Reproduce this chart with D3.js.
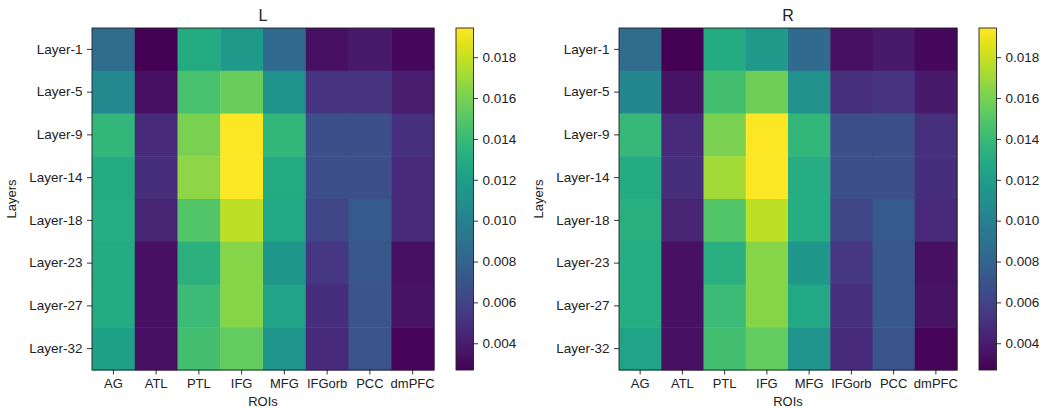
<!DOCTYPE html>
<html>
<head>
<meta charset="utf-8">
<script src="https://cdn.jsdelivr.net/npm/d3@7"></script>
<style>
  body { margin: 0; background: #fff; }
  svg { font-family: "Liberation Sans", Arial, sans-serif; }
  .axis .domain { display: none; }
  .axis line { stroke: #000; stroke-width: 0.8; }
  .axis text { fill: #222; }
</style>
</head>
<body>
<svg width="1049" height="408"></svg>
<script>
var rois = ["AG", "ATL", "PTL", "IFG", "MFG", "IFGorb", "PCC", "dmPFC"];
var layers = ["Layer-1", "Layer-5", "Layer-9", "Layer-14", "Layer-18", "Layer-23", "Layer-27", "Layer-32"];
var cbarTicks = [0.004, 0.006, 0.008, 0.010, 0.012, 0.014, 0.016, 0.018];

// rows = layers, columns = rois
var leftValues = [
  [0.00855, 0.00269, 0.01290, 0.01173, 0.00838, 0.00336, 0.00386, 0.00302],
  [0.01056, 0.00336, 0.01458, 0.01558, 0.01123, 0.00520, 0.00520, 0.00403],
  [0.01374, 0.00470, 0.01608, 0.01943, 0.01374, 0.00671, 0.00671, 0.00503],
  [0.01290, 0.00487, 0.01658, 0.01935, 0.01290, 0.00671, 0.00671, 0.00470],
  [0.01307, 0.00436, 0.01491, 0.01776, 0.01273, 0.00621, 0.00738, 0.00470],
  [0.01290, 0.00336, 0.01340, 0.01642, 0.01156, 0.00537, 0.00721, 0.00336],
  [0.01290, 0.00336, 0.01407, 0.01642, 0.01240, 0.00487, 0.00704, 0.00353],
  [0.01223, 0.00336, 0.01441, 0.01541, 0.01139, 0.00470, 0.00704, 0.00286]
];

var rightValues = [
  [0.00855, 0.00269, 0.01290, 0.01173, 0.00838, 0.00336, 0.00386, 0.00302],
  [0.01039, 0.00353, 0.01441, 0.01575, 0.01106, 0.00503, 0.00520, 0.00386],
  [0.01391, 0.00470, 0.01608, 0.01943, 0.01374, 0.00671, 0.00671, 0.00503],
  [0.01290, 0.00487, 0.01709, 0.01943, 0.01307, 0.00671, 0.00671, 0.00487],
  [0.01324, 0.00436, 0.01491, 0.01776, 0.01307, 0.00621, 0.00738, 0.00453],
  [0.01307, 0.00336, 0.01324, 0.01642, 0.01156, 0.00537, 0.00721, 0.00336],
  [0.01307, 0.00336, 0.01407, 0.01642, 0.01273, 0.00503, 0.00721, 0.00353],
  [0.01240, 0.00336, 0.01441, 0.01541, 0.01139, 0.00470, 0.00704, 0.00286]
];

var svg = d3.select("svg");
var top0 = 28, bottom0 = 370;

function heatmap(id, title, values, left, right, cbarX) {
  var g = svg.append("g");
  var flat = d3.merge(values);
  var vmin = d3.min(flat), vmax = d3.max(flat);
  var color = d3.scaleSequential(d3.interpolateViridis).domain([vmin, vmax]);

  var x = d3.scaleBand().domain(rois).range([left, right]);
  var y = d3.scaleBand().domain(layers).range([top0, bottom0]);

  var cells = [];
  values.forEach(function(row, i) {
    row.forEach(function(v, j) { cells.push({layer: layers[i], roi: rois[j], value: v}); });
  });

  g.selectAll(".cell")
    .data(cells)
    .enter().append("rect")
      .attr("class", "cell")
      .attr("x", function(d) { return x(d.roi); })
      .attr("y", function(d) { return y(d.layer); })
      .attr("width", x.bandwidth() + 0.5)
      .attr("height", y.bandwidth() + 0.5)
      .attr("fill", function(d) { return color(d.value); });

  g.append("rect")
    .attr("x", left).attr("y", top0)
    .attr("width", right - left).attr("height", bottom0 - top0)
    .attr("fill", "none").attr("stroke", "#222").attr("stroke-width", 0.9);

  g.append("g")
    .attr("class", "axis")
    .attr("transform", "translate(0," + bottom0 + ")")
    .style("font-size", "13px")
    .call(d3.axisBottom(x).tickSize(4.5).tickPadding(4).tickSizeOuter(0));

  g.append("g")
    .attr("class", "axis")
    .attr("transform", "translate(" + left + ",0)")
    .style("font-size", "13.5px")
    .call(d3.axisLeft(y).tickSize(5).tickPadding(4.5).tickSizeOuter(0));

  g.append("text")
    .attr("x", (left + right) / 2).attr("y", 21)
    .attr("text-anchor", "middle")
    .style("font-size", "16px")
    .attr("fill", "#222")
    .text(title);

  g.append("text")
    .attr("x", (left + right) / 2).attr("y", 406)
    .attr("text-anchor", "middle")
    .style("font-size", "13px")
    .attr("fill", "#222")
    .text("ROIs");

  g.append("text")
    .attr("transform", "translate(" + (left - 76) + "," + ((top0 + bottom0) / 2) + ") rotate(-90)")
    .attr("text-anchor", "middle")
    .style("font-size", "13px")
    .attr("fill", "#222")
    .text("Layers");

  // colorbar
  var cw = 17.5;
  var cy = d3.scaleLinear().domain([vmin, vmax]).range([bottom0, top0]);
  var grad = svg.append("defs").append("linearGradient")
    .attr("id", "grad-" + id)
    .attr("x1", 0).attr("y1", 1).attr("x2", 0).attr("y2", 0);
  d3.range(0, 1.0001, 0.05).forEach(function(t) {
    grad.append("stop")
      .attr("offset", t)
      .attr("stop-color", color(vmin + t * (vmax - vmin)));
  });

  g.append("rect")
    .attr("x", cbarX).attr("y", top0)
    .attr("width", cw).attr("height", bottom0 - top0)
    .attr("fill", "url(#grad-" + id + ")")
    .attr("stroke", "#222").attr("stroke-width", 0.9);

  g.append("g")
    .attr("class", "axis")
    .attr("transform", "translate(" + (cbarX + cw) + ",0)")
    .style("font-size", "13.5px")
    .call(d3.axisRight(cy).tickValues(cbarTicks).tickFormat(d3.format(".3f")).tickSize(4.5).tickPadding(4.5).tickSizeOuter(0));
}

heatmap("L", "L", leftValues, 92, 434, 456);
heatmap("R", "R", rightValues, 619, 957, 979);
</script>
</body>
</html>
